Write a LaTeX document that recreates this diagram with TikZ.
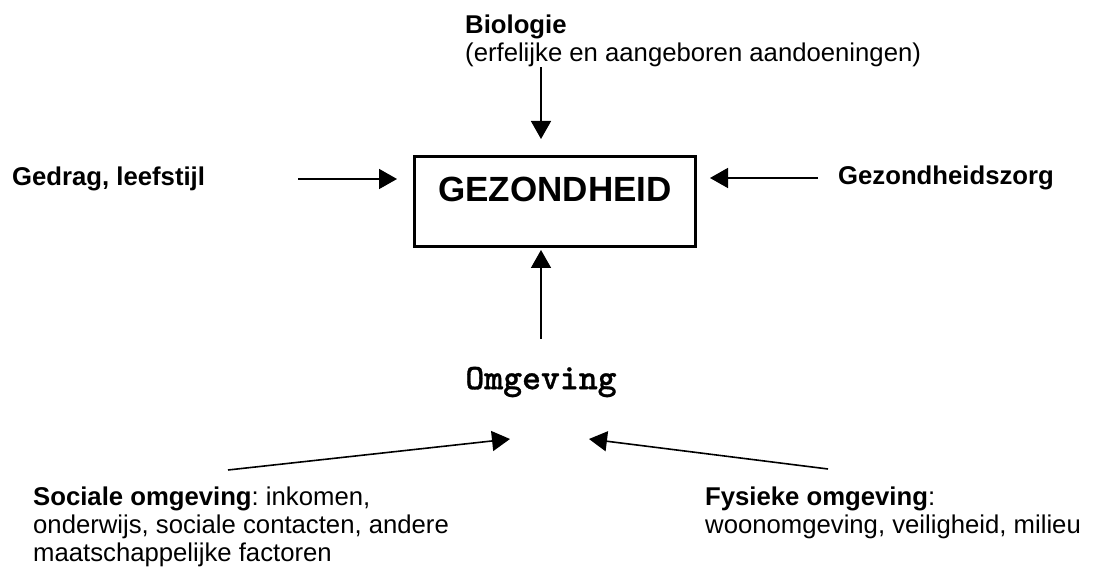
\documentclass[tikz,border=0pt]{standalone}
\usepackage{fontspec}
\setmainfont{Liberation Sans}
\newfontfamily\omgfont{lmmonolt10-bold.otf}[FakeBold=0.8]
\usepackage{tikz}
\usetikzlibrary{calc,positioning,arrows.meta}
\frenchspacing
\tikzstyle{txt}       = [inner sep=0pt, align=left, font=\fontsize{25.7pt}{28pt}\selectfont]
\tikzstyle{healthbox} = [draw, line width=3pt, minimum width=281pt, minimum height=90pt, text height=25pt, text depth=24pt, font=\fontsize{35pt}{38pt}\selectfont\bfseries]
\tikzstyle{arrow}     = [line width=1.6pt, -{Triangle[length=18pt,width=20pt]}]

\begin{document}
\begin{tikzpicture}[x=1pt,y=1pt]
        \useasboundingbox (0,0) rectangle (1096,570);
        \node[healthbox] (gez) at (555,368.5) {GEZONDHEID};
        \node[txt, anchor=north west] (bio) at (465,555) {\textbf{Biologie}\\(erfelijke en aangeboren aandoeningen)};
        \node[txt, anchor=west] (ged) at (12,391) {\textbf{Gedrag, leefstijl}};
        \node[txt, anchor=west] (gzz) at (838,392) {\textbf{Gezondheidszorg}};
        \node[inner sep=0pt, font=\fontsize{36pt}{38pt}\selectfont\omgfont] (omg) at (541,188) {Omgeving};
        \node[txt, anchor=north west] (soc) at (33,83) {\textbf{Sociale omgeving}: inkomen,\\onderwijs, sociale contacten, andere\\maatschappelijke factoren};
        \node[txt, anchor=north west] (fys) at (705,83) {\textbf{Fysieke omgeving}:\\woonomgeving, veiligheid, milieu};

        \draw[arrow, shorten >=16pt] (bio.south -| omg) -- (gez.north -| omg);
        \draw[arrow, shorten <=93pt, shorten >=16pt] (ged.east) -- (ged.east -| gez.west);
        \draw[arrow, shorten <=20pt, shorten >=13pt] (gzz.west) -- (gzz.west -| gez.east);
        \draw[arrow, shorten <=28pt, shorten >=2pt] (omg.north) -- (gez.south -| omg);
        \draw[arrow] ([shift={(195,17)}]soc.north west) -- ([shift={(-31,-57)}]omg.center);
        \draw[arrow] ([shift={(123,18)}]fys.north west) -- ([shift={(48,-57)}]omg.center);
    \end{tikzpicture}
\end{document}
